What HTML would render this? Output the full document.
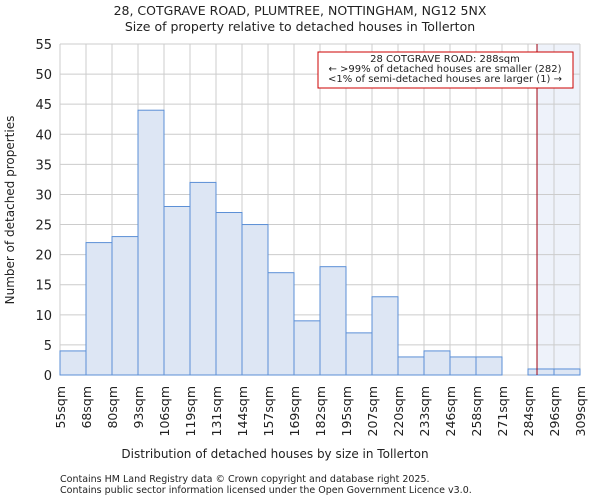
<!DOCTYPE html>
<html><head><meta charset="utf-8"><style>
body{margin:0;background:#fff;font-family:"DejaVu Sans","Liberation Sans",sans-serif;}
svg text{font-family:"DejaVu Sans","Liberation Sans",sans-serif;fill:#222;}
</style></head><body>
<svg id="chart" width="600" height="500">
<text x="300" y="15" text-anchor="middle" font-size="12.5">28, COTGRAVE ROAD, PLUMTREE, NOTTINGHAM, NG12 5NX</text>
<text x="300" y="31" text-anchor="middle" font-size="12.5">Size of property relative to detached houses in Tollerton</text>
<g id="grid"></g><g id="bars"></g><g id="axes"></g>
<text x="275" y="458" text-anchor="middle" font-size="12">Distribution of detached houses by size in Tollerton</text>
<text transform="translate(14,210) rotate(-90)" text-anchor="middle" font-size="12">Number of detached properties</text>
<text x="60" y="482" font-size="9.5" fill="#444">Contains HM Land Registry data © Crown copyright and database right 2025.</text>
<text x="60" y="493" font-size="9.5" fill="#444">Contains public sector information licensed under the Open Government Licence v3.0.</text>
</svg>
<script>
const categories=["55sqm","68sqm","80sqm","93sqm","106sqm","119sqm","131sqm","144sqm","157sqm","169sqm","182sqm","195sqm","207sqm","220sqm","233sqm","246sqm","258sqm","271sqm","284sqm","296sqm","309sqm"];
const counts=[4,22,23,44,28,32,27,25,17,9,18,7,13,3,4,3,3,0,1,1];
const yTicks=[0,5,10,15,20,25,30,35,40,45,50,55];
const xMin=55, xMax=309, propertySize=288;
const L=60,R=580,T=44,B=375,ns="http://www.w3.org/2000/svg";
const n=counts.length;
const xb=i=>L+(R-L)*i/n;
const xv=v=>L+(R-L)*(v-xMin)/(xMax-xMin);
const y=v=>B-(B-T)*v/55;
function mk(tag,attrs,parent){const e=document.createElementNS(ns,tag);for(const k in attrs)e.setAttribute(k,attrs[k]);parent.appendChild(e);return e;}
const grid=document.getElementById('grid'),bars=document.getElementById('bars'),axes=document.getElementById('axes');
const px=xv(propertySize);
let hl=mk('rect',{x:px,y:T,width:R-px,height:B-T,fill:'#eef2fa'},grid);


yTicks.forEach(t=>{let l=mk('line',{x1:L,x2:R,y1:y(t),y2:y(t),stroke:'#ccc'},grid);


let tx=mk('text',{x:L-8,y:y(t)+5,'text-anchor':'end','font-size':13},axes);tx.textContent=t;

});
categories.forEach((c,i)=>{let l=mk('line',{x1:xb(i),x2:xb(i),y1:T,y2:B,stroke:'#ccc'},grid);


let tx=mk('text',{transform:`translate(${xb(i)+5},386) rotate(-90)`,'text-anchor':'end','font-size':12.5},axes);tx.textContent=c;

});
counts.forEach((v,i)=>{if(v<=0)return;let r=mk('rect',{x:xb(i),y:y(v),width:(R-L)/n,height:B-y(v),fill:'#dde6f4',stroke:'#5b8fd6','stroke-width':1},bars);

});
let pl=mk('line',{x1:px,x2:px,y1:T,y2:B,stroke:'#a00010','stroke-width':1},axes);


let box=mk('rect',{x:318,y:52,width:255,height:36,fill:'#fff',stroke:'#c00','stroke-width':1},axes);


["28 COTGRAVE ROAD: 288sqm","← >99% of detached houses are smaller (282)","<1% of semi-detached houses are larger (1) →"].forEach((s,i)=>{let t=mk('text',{x:445,y:62+i*10,'text-anchor':'middle','font-size':10},axes);t.textContent=s;

});
</script>
</body></html>
